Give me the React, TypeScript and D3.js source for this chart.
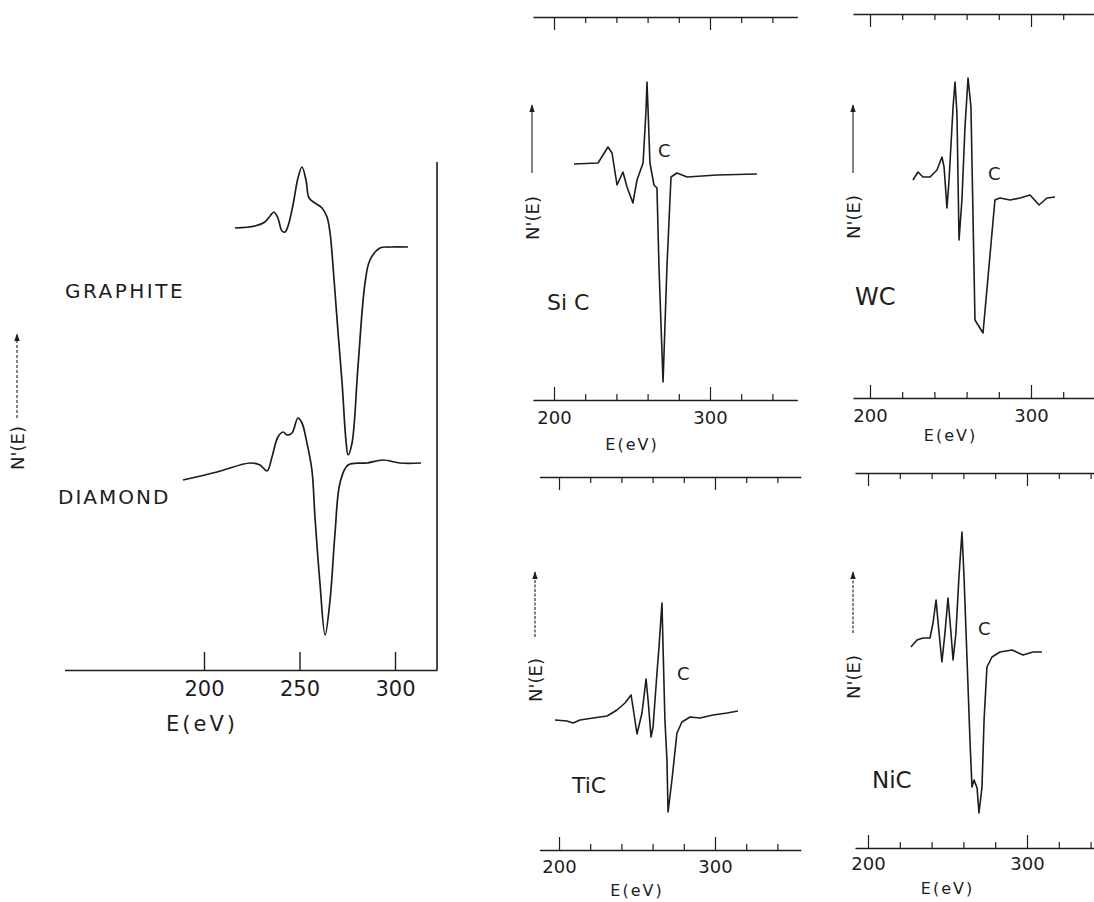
import React, { useEffect, useRef } from 'react';
import * as d3 from 'd3';

// big panel (graphite / diamond)
const mainTicks = [200, 250, 300];

const graphiteE = [216.2, 226.7, 231.9, 234.6, 236.6, 238.7, 240.8, 242.4, 244.0, 246.6, 249.2, 251.3, 253.4, 255.0, 258.1, 261.8, 264.4, 266.0, 268.1, 270.2, 272.3, 274.3, 275.4, 277.5, 280.6, 284.3, 286.9, 292.1, 297.4, 306.8];
const graphiteN = [442, 444, 448, 454, 458, 452, 439, 438, 444, 465, 492, 503, 490, 472, 467, 462, 453, 437, 390, 337, 287, 230, 215, 227, 303, 387, 410, 422, 423, 423];

const diamondE = [189.0, 206.8, 224.1, 229.3, 233.0, 235.6, 238.7, 241.4, 243.5, 246.1, 249.2, 251.3, 253.9, 256.5, 258.1, 260.7, 263.4, 266.0, 268.6, 271.2, 275.4, 285.3, 293.7, 302.6, 313.6];
const diamondN = [190, 198, 207, 205, 199, 213, 233, 238, 235, 237, 252, 247, 227, 200, 153, 87, 35, 70, 137, 187, 205, 207, 210, 207, 207];

// small panels (carbides)
const smallTicks = [200, 220, 240, 260, 280, 300, 320, 340];

const sicE = [212.8, 228.2, 234.6, 237.2, 240.4, 244.2, 246.8, 250.6, 253.2, 257.1, 259.0, 259.6, 260.3, 261.5, 264.1, 266.0, 267.3, 269.9, 272.4, 275.0, 278.8, 285.3, 304.5, 330.1];
const sicN = [0, 1, 17, 11, -21, -8, -23, -39, -16, 1, 54, 82, 54, 1, -21, -24, -103, -218, -103, -13, -9, -13, -11, -10];

const wcE = [226.7, 229.8, 232.9, 237.3, 241.6, 244.7, 246.0, 247.8, 249.1, 251.6, 252.8, 254.0, 255.3, 257.1, 259.0, 260.9, 262.7, 265.2, 270.2, 277.6, 280.7, 287.0, 293.2, 299.4, 305.0, 309.9, 314.9];
const wcN = [0, 8, 3, 3, 10, 23, 13, -28, 0, 73, 98, 67, -60, -20, 53, 102, 73, -140, -153, -20, -18, -20, -18, -15, -25, -18, -17];

const ticE = [197.4, 205.1, 209.0, 213.5, 221.8, 230.8, 237.2, 242.3, 246.2, 247.4, 250.0, 253.2, 255.8, 257.1, 259.0, 260.3, 262.8, 264.1, 266.0, 266.7, 267.9, 269.2, 269.9, 272.4, 275.6, 278.8, 284.0, 290.4, 298.7, 307.7, 314.7];
const ticN = [0, -1, -3, 0, 2, 4, 10, 17, 25, 13, -14, 7, 41, 20, -17, -7, 47, 73, 117, 73, 0, -40, -92, -60, -13, -2, 3, 2, 5, 7, 9];

const nicE = [227.0, 230.8, 234.6, 239.0, 240.9, 242.8, 244.7, 246.5, 248.4, 250.3, 252.2, 253.5, 255.3, 257.2, 259.1, 260.4, 262.3, 264.2, 265.4, 266.7, 268.6, 269.8, 271.7, 273.0, 274.8, 278.0, 283.0, 290.6, 297.5, 303.8, 309.4];
const nicN = [1, 8, 10, 10, 25, 48, 15, -14, 15, 50, 15, -12, 15, 71, 116, 71, -12, -95, -139, -132, -140, -165, -139, -72, -19, -9, -4, -2, -7, -4, -4];

const FONT = "'DejaVu Sans', Verdana, sans-serif";
const INK = '#1d1d1d';

const panels = [
  { name: 'Si C', E: sicE, N: sicN, x200: 554, x300: 710, base: 164, top: 17, bottom: 400, extent: [186.5, 356], nameX: 547, nameY: 310, nameSize: 22, cX: 658, cY: 157, yLabX: 532, yLabY: 218, arrowTop: 105, arrowBottom: 173, tickLabY: 424, xLabY: 450, dashed: false },
  { name: 'WC', E: wcE, N: wcN, x200: 870, x300: 1031, base: 180, top: 14, bottom: 398, extent: [189.4, 346], nameX: 855, nameY: 305, nameSize: 24, cX: 988, cY: 180, yLabX: 853, yLabY: 217, arrowTop: 105, arrowBottom: 173, tickLabY: 422, xLabY: 441, dashed: false },
  { name: 'TiC', E: ticE, N: ticN, x200: 559, x300: 715, base: 720, top: 477, bottom: 850, extent: [187.5, 355], nameX: 572, nameY: 793, nameSize: 22, cX: 677, cY: 680, yLabX: 535, yLabY: 680, arrowTop: 572, arrowBottom: 637, tickLabY: 873, xLabY: 896, dashed: true },
  { name: 'NiC', E: nicE, N: nicN, x200: 868, x300: 1027, base: 648, top: 473, bottom: 848, extent: [191.8, 346], nameX: 872, nameY: 788, nameSize: 23, cX: 978, cY: 635, yLabX: 853, yLabY: 677, arrowTop: 572, arrowBottom: 633, tickLabY: 870, xLabY: 894, dashed: true },
];

const App = () => {
  const svgRef = useRef<SVGSVGElement>(null);

  useEffect(() => {
    if (!svgRef.current) return;
    const width = 1094;
    const height = 902;

    const svg = d3.select(svgRef.current);
    svg.selectAll('*').remove();
    svg.attr('width', width).attr('height', height).attr('viewBox', `0 0 ${width} ${height}`);

    svg.append('rect').attr('width', width).attr('height', height).attr('fill', '#fff');

    svg.append('defs').append('marker')
      .attr('id', 'arr')
      .attr('viewBox', '0 -5 10 10')
      .attr('refX', 9)
      .attr('refY', 0)
      .attr('markerUnits', 'userSpaceOnUse')
      .attr('markerWidth', 8)
      .attr('markerHeight', 8)
      .attr('orient', 'auto')
      .append('path')
      .attr('d', 'M0,-3.5L10,0L0,3.5Z')
      .attr('fill', INK);

    // ---- big panel ----
    const x200 = 204, x300 = 395;
    const xBase = d3.scaleLinear().domain([200, 300]).range([x200, x300]);
    const mainExtent = [127, 322];
    const x = d3.scaleLinear().domain(mainExtent).range(mainExtent.map(xBase));
    const y = d3.scaleLinear().domain([0, 508]).range([670, 162]);

    const main = svg.append('g');

    const mainAxis = main.append('g')
      .attr('transform', 'translate(0,670)')
      .call(d3.axisBottom(x).tickValues(mainTicks).tickSizeInner(-18).tickSizeOuter(0).tickFormat(d => String(d)));
    mainAxis.select('.domain').attr('stroke', INK).attr('stroke-width', 1.6);
    mainAxis.selectAll('.tick line').attr('stroke', INK).attr('stroke-width', 1.4);
    mainAxis.selectAll('.tick text')
      .attr('y', 26).attr('dy', 0)
      .attr('font-family', FONT).attr('font-size', 21).attr('fill', INK);

    // right frame line
    main.append('line')
      .attr('x1', x(mainExtent[1])).attr('x2', x(mainExtent[1]))
      .attr('y1', y(508)).attr('y2', y(0))
      .attr('stroke', INK).attr('stroke-width', 1.6);

    main.append('text')
      .attr('x', 166).attr('y', 731)
      .attr('font-family', FONT).attr('font-size', 21).attr('fill', INK)
      .attr('letter-spacing', 3)
      .text('E(eV)');

    const mainLine = (E: number[], N: number[]) =>
      d3.line<number>().x(i => x(E[i])).y(i => y(N[i])).curve(d3.curveCatmullRom.alpha(0.5))(d3.range(E.length));

    main.append('path').attr('d', mainLine(graphiteE, graphiteN))
      .attr('fill', 'none').attr('stroke', INK).attr('stroke-width', 1.7).attr('stroke-linejoin', 'round');
    main.append('path').attr('d', mainLine(diamondE, diamondN))
      .attr('fill', 'none').attr('stroke', INK).attr('stroke-width', 1.7).attr('stroke-linejoin', 'round');

    main.append('text').attr('x', 65).attr('y', 298)
      .attr('font-family', FONT).attr('font-size', 20).attr('fill', INK).attr('letter-spacing', 2.5)
      .text('GRAPHITE');
    main.append('text').attr('x', 58).attr('y', 504)
      .attr('font-family', FONT).attr('font-size', 20).attr('fill', INK).attr('letter-spacing', 2)
      .text('DIAMOND');

    main.append('text')
      .attr('transform', 'translate(24,448) rotate(-90)')
      .attr('text-anchor', 'middle')
      .attr('font-family', FONT).attr('font-size', 18).attr('fill', INK)
      .text("N'(E)");
    main.append('line')
      .attr('x1', 17).attr('x2', 17).attr('y1', 418).attr('y2', 334)
      .attr('stroke', INK).attr('stroke-width', 1.1).attr('stroke-dasharray', '3,2')
      .attr('marker-end', 'url(#arr)');

    // ---- carbide panels ----
    panels.forEach(p => {
      const base = d3.scaleLinear().domain([200, 300]).range([p.x200, p.x300]);
      const px = d3.scaleLinear().domain(p.extent).range(p.extent.map(base));
      const py = d3.scaleLinear().domain([0, 100]).range([p.base, p.base - 100]);
      const g = svg.append('g');

      const topAx = g.append('g')
        .attr('transform', `translate(0,${p.top})`)
        .call(d3.axisBottom(px).tickValues(smallTicks).tickSizeInner(6).tickSizeOuter(0).tickFormat(() => ''));
      topAx.select('.domain').attr('stroke', INK).attr('stroke-width', 1.3);
      topAx.selectAll('.tick line')
        .attr('y2', (d: any) => (d % 100 === 0 ? 13 : 6))
        .attr('stroke', INK).attr('stroke-width', 1.2);

      const botAx = g.append('g')
        .attr('transform', `translate(0,${p.bottom})`)
        .call(d3.axisBottom(px).tickValues(smallTicks).tickSizeInner(-6).tickSizeOuter(0)
          .tickFormat((d: any) => (d % 100 === 0 ? String(d) : '')));
      botAx.select('.domain').attr('stroke', INK).attr('stroke-width', 1.3);
      botAx.selectAll('.tick line')
        .attr('y2', (d: any) => (d % 100 === 0 ? -13 : -6))
        .attr('stroke', INK).attr('stroke-width', 1.2);
      botAx.selectAll('.tick text')
        .attr('y', p.tickLabY - p.bottom).attr('dy', 0)
        .attr('font-family', FONT).attr('font-size', 18).attr('fill', INK);

      g.append('text')
        .attr('x', (px(200) + px(300)) / 2).attr('y', p.xLabY)
        .attr('text-anchor', 'middle')
        .attr('font-family', FONT).attr('font-size', 16).attr('fill', INK).attr('letter-spacing', 2)
        .text('E(eV)');

      const ln = d3.line<number>().x(i => px(p.E[i])).y(i => py(p.N[i]));
      g.append('path').attr('d', ln(d3.range(p.E.length)))
        .attr('fill', 'none').attr('stroke', INK).attr('stroke-width', 1.6).attr('stroke-linejoin', 'round');

      g.append('text').attr('x', p.nameX).attr('y', p.nameY)
        .attr('font-family', FONT).attr('font-size', p.nameSize).attr('fill', INK)
        .text(p.name);
      g.append('text').attr('x', p.cX).attr('y', p.cY)
        .attr('font-family', FONT).attr('font-size', 18).attr('fill', INK)
        .text('C');

      g.append('text')
        .attr('transform', `translate(${p.yLabX + 7},${p.yLabY}) rotate(-90)`)
        .attr('text-anchor', 'middle')
        .attr('font-family', FONT).attr('font-size', 18).attr('fill', INK)
        .text("N'(E)");
      g.append('line')
        .attr('x1', p.yLabX).attr('x2', p.yLabX).attr('y1', p.arrowBottom).attr('y2', p.arrowTop)
        .attr('stroke', INK).attr('stroke-width', 1.1)
        .attr('stroke-dasharray', p.dashed ? '3,1.5' : null)
        .attr('marker-end', 'url(#arr)');
    });
  }, []);

  return (
    <div style={{ position: 'absolute', left: 0, top: 0 }}>
      <svg ref={svgRef} style={{ display: 'block' }}></svg>
    </div>
  );
};

export default App;
